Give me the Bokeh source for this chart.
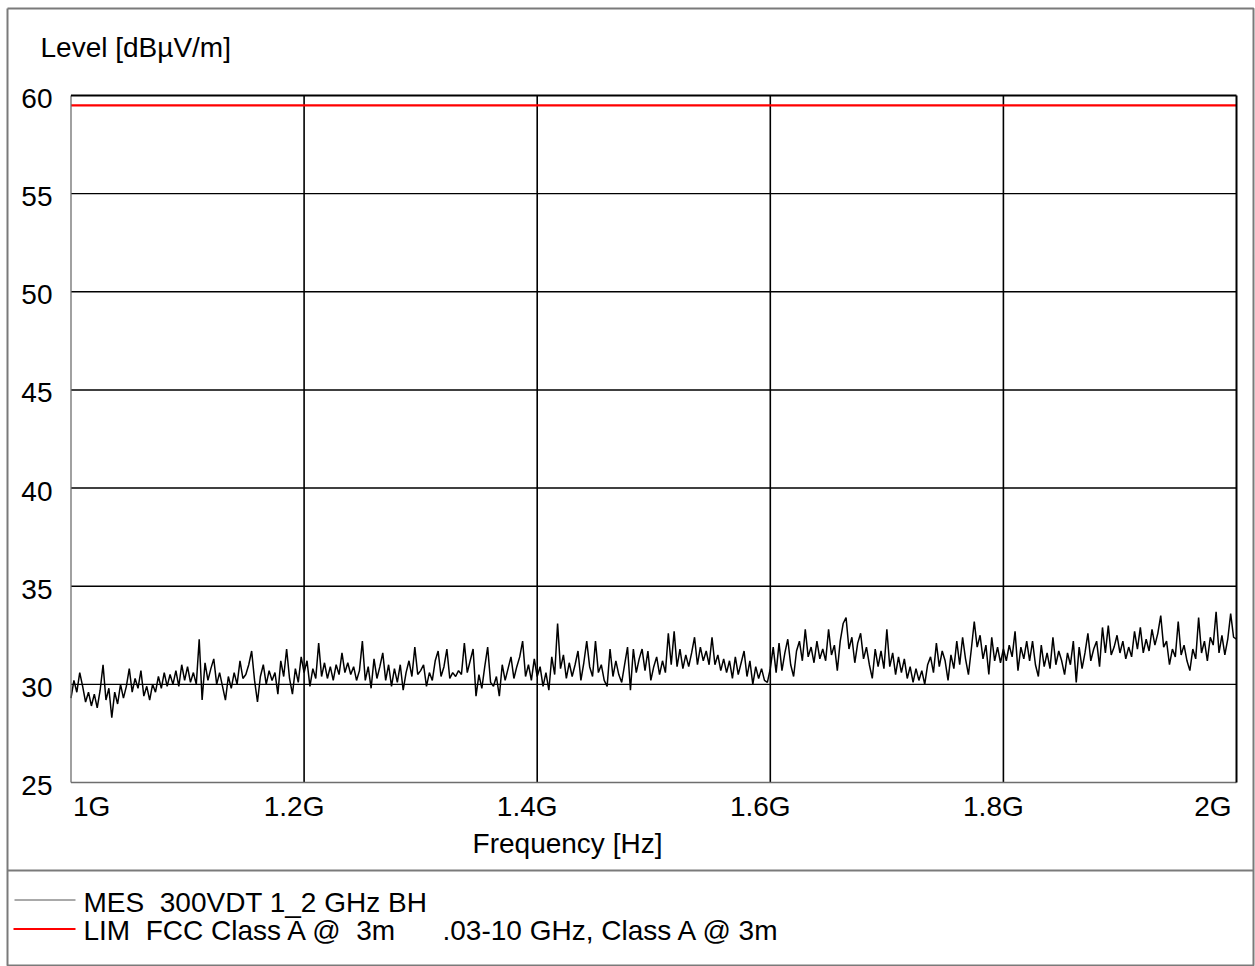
from bokeh.plotting import figure
from bokeh.models import Range1d, ColumnDataSource
from bokeh.core.properties import value
from bokeh.embed import file_html
from bokeh.resources import INLINE

# ---------------------------------------------------------------------------
# Measured trace: MES 300VDT 1_2 GHz BH, 1.0 .. 2.0 GHz sweep, 2.5 MHz step
# ---------------------------------------------------------------------------
f_start = 1.0e9
f_step = 2.5e6
mes_level = [
    # 1.000 - 1.0475 GHz
    29.3, 30.2, 29.6, 30.6, 29.9, 29.1, 29.6, 28.9, 29.5, 28.8,
    29.7, 31.0, 29.2, 29.8, 28.3, 29.6, 29.0, 30.0, 29.3, 29.9,
    # 1.050 - 1.0975 GHz
    30.8, 29.6, 30.3, 29.8, 30.7, 29.4, 29.9, 29.2, 30.0, 29.6,
    30.4, 29.8, 30.6, 29.9, 30.5, 30.0, 30.7, 29.9, 31.0, 30.2,
    # 1.100 - 1.1475 GHz
    30.9, 30.1, 30.6, 30.0, 32.3, 29.2, 31.1, 30.2, 30.8, 31.3,
    30.0, 30.6, 29.9, 29.2, 30.4, 29.8, 30.6, 30.0, 31.2, 30.3,
    # 1.150 - 1.1975 GHz
    30.5, 31.0, 31.7, 30.2, 29.1, 30.4, 31.0, 30.0, 30.7, 30.2,
    30.6, 29.5, 31.2, 30.4, 31.8, 30.3, 29.5, 30.8, 30.1, 31.4,
    # 1.200 - 1.2475 GHz
    30.6, 31.2, 29.9, 30.8, 30.3, 32.1, 30.4, 31.1, 30.3, 30.9,
    30.2, 31.0, 30.5, 31.6, 30.6, 31.1, 30.5, 30.9, 30.2, 30.7,
    # 1.250 - 1.2975 GHz
    32.2, 30.2, 30.9, 29.8, 31.3, 30.3, 30.9, 31.6, 30.2, 31.0,
    29.9, 30.8, 30.1, 31.0, 29.7, 30.6, 31.2, 30.4, 31.9, 30.5,
    # 1.300 - 1.3475 GHz
    30.7, 31.0, 29.9, 30.6, 30.2, 31.2, 31.7, 30.4, 30.9, 31.8,
    30.3, 30.6, 30.4, 30.7, 30.5, 32.1, 30.6, 31.2, 31.8, 29.4,
    # 1.350 - 1.3975 GHz
    30.5, 29.8, 30.9, 31.9, 30.1, 29.9, 30.4, 29.4, 31.0, 30.2,
    30.8, 31.4, 30.3, 30.9, 31.4, 32.2, 30.4, 31.0, 30.2, 31.3,
    # 1.400 - 1.4475 GHz
    30.4, 30.9, 29.9, 30.6, 29.7, 31.4, 30.5, 33.1, 30.8, 31.5,
    30.3, 31.1, 30.4, 31.0, 31.7, 30.2, 31.1, 32.2, 30.9, 30.4,
    # 1.450 - 1.4975 GHz
    32.2, 30.6, 31.0, 30.2, 29.9, 31.8, 30.4, 31.2, 30.5, 30.1,
    31.0, 31.9, 29.7, 31.8, 30.6, 31.3, 31.8, 30.7, 31.7, 30.2,
    # 1.500 - 1.5475 GHz
    30.9, 31.4, 30.5, 31.2, 30.6, 32.6, 31.0, 32.7, 30.9, 31.8,
    30.8, 31.5, 30.9, 31.6, 32.4, 31.0, 31.9, 31.2, 31.7, 31.0,
    # 1.550 - 1.5975 GHz
    32.4, 31.0, 31.5, 30.7, 31.3, 30.6, 31.2, 30.3, 31.4, 30.5,
    31.1, 31.7, 30.4, 31.2, 30.0, 30.9, 30.3, 30.8, 30.2, 30.1,
    # 1.600 - 1.6475 GHz
    30.8, 31.9, 30.6, 32.1, 30.7, 31.6, 32.3, 31.0, 30.4, 31.7,
    32.2, 31.2, 32.8, 31.4, 31.9, 31.1, 32.2, 31.3, 31.8, 31.2,
    # 1.650 - 1.6975 GHz
    32.8, 31.5, 32.0, 30.7, 32.2, 33.1, 33.4, 31.8, 32.4, 31.1,
    32.1, 32.6, 31.3, 31.9, 31.0, 30.3, 31.8, 30.9, 31.7, 30.8,
    # 1.700 - 1.7475 GHz
    32.8, 30.9, 31.6, 30.5, 31.4, 30.6, 31.3, 30.3, 30.9, 30.1,
    30.8, 30.2, 30.7, 30.0, 31.0, 31.4, 30.6, 32.1, 30.9, 31.7,
    # 1.750 - 1.7975 GHz
    31.2, 30.2, 31.5, 30.8, 32.2, 31.0, 32.4, 31.3, 30.5, 31.8,
    33.2, 31.9, 32.5, 31.3, 32.0, 30.5, 32.4, 31.2, 31.9, 31.1,
    # 1.800 - 1.8475 GHz
    31.8, 31.2, 32.0, 31.4, 32.7, 30.7, 31.9, 31.3, 32.2, 31.2,
    32.2, 31.0, 30.4, 32.0, 30.9, 31.6, 30.8, 32.4, 31.0, 31.7,
    # 1.850 - 1.8975 GHz
    31.2, 30.5, 31.6, 31.0, 32.2, 30.1, 31.9, 30.8, 31.6, 32.6,
    31.2, 31.8, 32.2, 30.9, 32.9, 31.6, 33.0, 31.5, 31.9, 32.5,
    # 1.900 - 1.9475 GHz
    31.6, 32.2, 31.3, 31.9, 31.4, 32.7, 31.8, 32.9, 31.6, 32.3,
    31.7, 32.8, 32.0, 32.6, 33.5, 31.9, 32.2, 31.0, 31.8, 31.4,
    # 1.950 - 2.000 GHz
    33.2, 31.5, 32.0, 31.2, 30.7, 31.8, 31.3, 33.4, 31.6, 32.2,
    31.2, 32.4, 32.0, 33.7, 31.6, 32.5, 31.5, 32.3, 33.6, 32.4,
    32.3,
]
mes_freq = [f_start + i * f_step for i in range(len(mes_level))]

# Limit line: FCC Class A @ 3m
lim_freq = [1.0e9, 2.0e9]
lim_level = [59.5, 59.5]

# Axes
freq_min, freq_max = 1.0e9, 2.0e9
level_min, level_max = 25, 60
level_ticks = [25, 30, 35, 40, 45, 50, 55, 60]
level_labels = ["25", "30", "35", "40", "45", "50", "55", "60"]
freq_ticks = [1.0e9, 1.2e9, 1.4e9, 1.6e9, 1.8e9, 2.0e9]
freq_labels = ["1G", "1.2G", "1.4G", "1.6G", "1.8G", "2G"]

NB = "\u00a0"   # keeps the doubled spaces of the legend entries
y_title = "Level [dBµV/m]"
x_title = "Frequency [Hz]"
legend_mes = "MES" + NB + " 300VDT 1_2 GHz BH"
legend_lim = "LIM" + NB + " FCC Class A @" + NB + " 3m"
legend_lim_tail = ".03-10 GHz, Class A @ 3m"

# ---------------------------------------------------------------------------
# Page layout (pixels, origin top-left)
# ---------------------------------------------------------------------------
W, H = 1255, 966
PL, PR, PT, PB = 70.5, 1236.0, 95.0, 782.0   # plot box
FONT = value("Liberation Sans")
FS = value("28px")
BL = -10   # baseline correction for the svg text renderer

px_per_hz = (PR - PL) / (freq_max - freq_min)
px_per_db = (PB - PT) / (level_max - level_min)

p = figure(
    width=W, height=H,
    x_range=Range1d(0, W), y_range=Range1d(H, 0),
    min_border=0, toolbar_location=None, output_backend="svg",
    x_axis_location=None, y_axis_location=None,
)
p.outline_line_color = None
p.background_fill_color = "white"
p.border_fill_color = "white"
p.grid.visible = False

# data scales mapped onto the plot box
p.extra_x_ranges = {"freq": Range1d(freq_min - PL / px_per_hz,
                                    freq_max + (W - PR) / px_per_hz)}
p.extra_y_ranges = {"level": Range1d(level_min - (H - PB) / px_per_db,
                                     level_max + PT / px_per_db)}
D = dict(x_range_name="freq", y_range_name="level")

# grid
inner_levels = level_ticks[1:-1]
p.segment(x0=[freq_min] * len(inner_levels), x1=[freq_max] * len(inner_levels),
          y0=inner_levels, y1=inner_levels, line_color="black", line_width=1.4, **D)
inner_freqs = freq_ticks[1:-1]
p.segment(x0=inner_freqs, x1=inner_freqs,
          y0=[level_min] * len(inner_freqs), y1=[level_max] * len(inner_freqs),
          line_color="black", line_width=1.6, **D)

# traces
p.line(mes_freq, mes_level, line_color="black", line_width=1.5, **D)
p.line(lim_freq, lim_level, line_color="#ff0000", line_width=2.2, **D)

# plot frame: light left/bottom, heavy top/right
p.segment(x0=[freq_min, freq_min], x1=[freq_min, freq_max],
          y0=[level_min, level_min], y1=[level_max, level_min],
          line_color="#6e6e6e", line_width=1.3, **D)
p.segment(x0=[freq_min, freq_max], x1=[freq_max, freq_max],
          y0=[level_max, level_min], y1=[level_max, level_max],
          line_color="black", line_width=2.0, **D)

# y tick labels
p.text(x=[52] * len(level_ticks), y=level_ticks, text=level_labels,
       text_align="right", text_baseline="alphabetic", y_offset=13 + BL,
       text_font=FONT, text_font_size=FS, text_color="black",
       y_range_name="level")

# x tick labels (end labels kept inside the box)
xt = ColumnDataSource(dict(
    x=freq_ticks, text=freq_labels,
    align=["left", "center", "center", "center", "center", "right"],
    dx=[2, -10, -10, -10, -10, -5],
))
p.text(x="x", y=816 + BL, text="text", source=xt, text_align="align", x_offset="dx",
       text_baseline="alphabetic", text_font=FONT, text_font_size=FS,
       text_color="black", x_range_name="freq")

# axis titles
p.text(x=[40], y=[57 + BL], text=[y_title], text_baseline="alphabetic",
       text_font=FONT, text_font_size=FS, text_color="black")
p.text(x=[567], y=[853 + BL], text=[x_title], text_align="center",
       text_baseline="alphabetic", text_font=FONT, text_font_size=FS,
       text_color="black")

# page border and legend separator
p.line(x=[7, W - 2, W - 2, 7, 7], y=[8, 8, H - 1, H - 1, 8],
       line_color="#7a7a7a", line_width=2)
p.segment(x0=[7], x1=[W - 2], y0=[870], y1=[870], line_color="#7a7a7a", line_width=2)

# legend
p.segment(x0=[14], x1=[75], y0=[899.5], y1=[899.5], line_color="#555555", line_width=1)
p.segment(x0=[13], x1=[75], y0=[928.5], y1=[928.5], line_color="#ff0000", line_width=2.2)
p.text(x=[83, 83, 442], y=[912 + BL, 940 + BL, 940 + BL],
       text=[legend_mes, legend_lim, legend_lim_tail],
       text_baseline="alphabetic", text_font=FONT, text_font_size=FS,
       text_color="black")

open("out.html", "w").write(file_html(p, INLINE))
